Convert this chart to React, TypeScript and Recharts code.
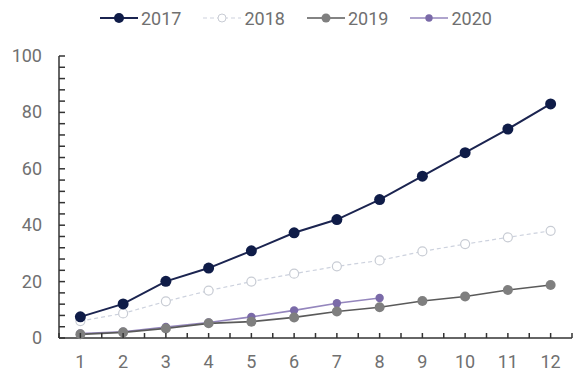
import React from 'react';
import { LineChart, Line, XAxis, YAxis, Legend } from 'recharts';

const months = [1, 2, 3, 4, 5, 6, 7, 8, 9, 10, 11, 12];
const series2017 = [7.5, 12.1, 20.1, 24.8, 30.9, 37.3, 42.0, 49.1, 57.4, 65.7, 74.1, 83.0];
const series2018 = [6.0, 8.7, 13.0, 16.8, 20.0, 22.8, 25.4, 27.5, 30.7, 33.3, 35.7, 38.0];
const series2019 = [1.3, 2.0, 3.4, 5.2, 5.8, 7.3, 9.4, 10.9, 13.1, 14.7, 17.0, 18.8];
const series2020 = [1.6, 2.2, 3.9, 5.5, 7.5, 9.8, 12.3, 14.2];
const yTicks = [0, 4, 8, 12, 16, 20, 24, 28, 32, 36, 40, 44, 48, 52, 56, 60, 64, 68, 72, 76, 80, 84, 88, 92, 96, 100];
const yLabelStep = 20;

const FONT = 'Roboto, "Liberation Sans", sans-serif';
const AXIS = '#333333';
const LABEL = '#707070';

const seriesStyles = [
  { key: 'y2017', name: '2017', stroke: '#1b2450', width: 2, dash: undefined, dotFill: '#0f1c48', dotStroke: 'none', r: 5.5 },
  { key: 'y2018', name: '2018', stroke: '#cdd2de', width: 1.2, dash: '4 3', dotFill: '#ffffff', dotStroke: '#c8ccd4', r: 4.5 },
  { key: 'y2019', name: '2019', stroke: '#5a5a5a', width: 1.6, dash: undefined, dotFill: '#7f7f7f', dotStroke: 'none', r: 5 },
  { key: 'y2020', name: '2020', stroke: '#9486bd', width: 1.6, dash: undefined, dotFill: '#7a6aa8', dotStroke: 'none', r: 4.2 },
];

const data = months.map((m, i) => ({
  month: m,
  y2017: series2017[i],
  y2018: series2018[i],
  y2019: series2019[i],
  y2020: i < series2020.length ? series2020[i] : null,
}));

// ticks at every month and halfway between months
const xTicks = months.flatMap(m => [m - 0.5, m]).concat(months[months.length - 1] + 0.5);

const XTick = (props: any) => {
  const { x, y, payload } = props;
  const isMonth = Number.isInteger(payload.value);
  return (
    <g>
      <line x1={x} y1={y} x2={x} y2={y - 5} stroke={AXIS} strokeWidth={1.5} />
      {isMonth && (
        <text x={x} y={y + 30} textAnchor="middle" fill={LABEL} fontSize={18} fontFamily={FONT}>
          {payload.value}
        </text>
      )}
    </g>
  );
};

const YTick = (props: any) => {
  const { x, y, payload } = props;
  const labelled = payload.value % yLabelStep === 0;
  return (
    <g>
      <line x1={x} y1={y} x2={x + 6} y2={y} stroke={AXIS} strokeWidth={1.5} />
      {labelled && (
        <text x={x - 17} y={y + 6} textAnchor="end" fill={LABEL} fontSize={18} fontFamily={FONT}>
          {payload.value}
        </text>
      )}
    </g>
  );
};

const LegendContent = () => (
  <div style={{ display: 'flex', height: 36, alignItems: 'center', paddingLeft: 100, fontFamily: FONT }}>
    {seriesStyles.map(s => (
      <div key={s.key} style={{ display: 'flex', alignItems: 'center', marginRight: 22 }}>
        <svg width={38} height={14}>
          <line x1={0} y1={7} x2={38} y2={7} stroke={s.stroke} strokeWidth={s.width} strokeDasharray={s.dash} />
          <circle cx={19} cy={7} r={s.r - 0.5} fill={s.dotFill} stroke={s.dotStroke} />
        </svg>
        <span style={{ marginLeft: 3, fontSize: 18, color: LABEL }}>{s.name}</span>
      </div>
    ))}
  </div>
);

export default function App() {
  return (
    <div style={{ position: 'fixed', left: 0, top: 0, width: 573, height: 374, background: '#fff' }}>
      <LineChart width={573} height={374} data={data} margin={{ top: 20, right: 1, bottom: 6, left: 0 }}>
        <Legend verticalAlign="top" height={36} wrapperStyle={{ top: 0, left: 0, width: 573 }} content={<LegendContent />} />
        <XAxis
          dataKey="month"
          type="number"
          domain={[0.5, 12.5]}
          ticks={xTicks}
          interval={0}
          height={30}
          tickSize={0}
          tickMargin={0}
          stroke={AXIS}
          strokeWidth={1.5}
          tick={<XTick />}
        />
        <YAxis
          type="number"
          domain={[0, 100]}
          ticks={yTicks}
          interval={0}
          width={59}
          tickSize={0}
          tickMargin={0}
          stroke={AXIS}
          strokeWidth={1.5}
          tick={<YTick />}
        />
        {[...seriesStyles].reverse().map(s => (
          <Line
            key={s.key}
            dataKey={s.key}
            name={s.name}
            type="linear"
            stroke={s.stroke}
            strokeWidth={s.width}
            strokeDasharray={s.dash}
            dot={{ r: s.r, fill: s.dotFill, stroke: s.dotStroke, strokeWidth: 1.2, strokeDasharray: '' }}
            activeDot={false}
            isAnimationActive={false}
          />
        ))}
      </LineChart>
    </div>
  );
}
